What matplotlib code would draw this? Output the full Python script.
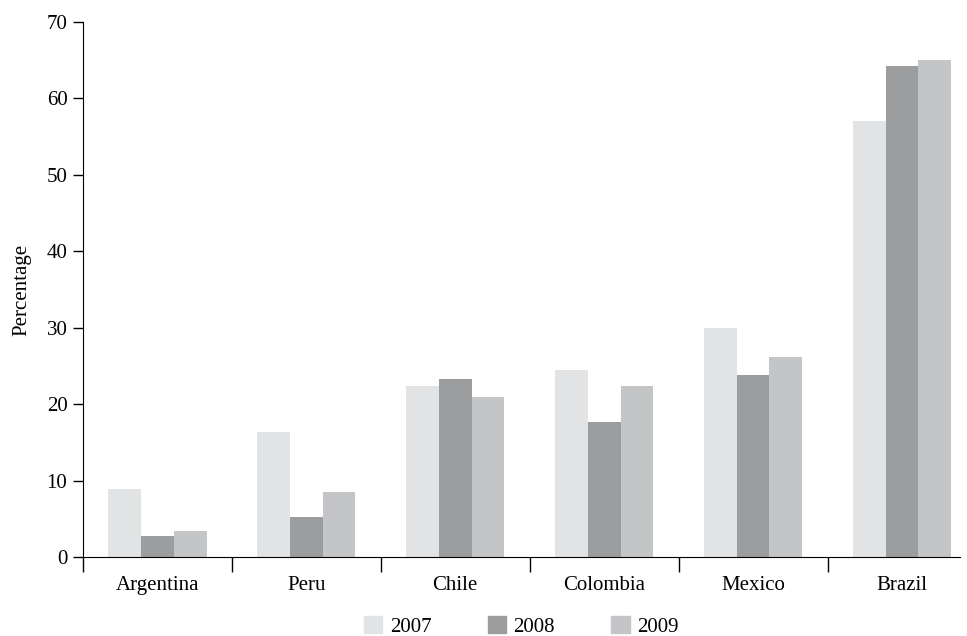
import numpy as np
import matplotlib
matplotlib.use("Agg")
import matplotlib.pyplot as plt
from matplotlib.patches import Patch

countries = ["Argentina", "Peru", "Chile", "Colombia", "Mexico", "Brazil"]
years = ["2007", "2008", "2009"]
v2007 = [8.9, 16.4, 22.4, 24.5, 29.9, 57.0]
v2008 = [2.8, 5.2, 23.3, 17.7, 23.8, 64.2]
v2009 = [3.4, 8.5, 21.0, 22.4, 26.2, 65.0]
colors = ["#e2e3e5", "#9c9d9f", "#c4c5c7"]

plt.rcParams["font.family"] = ["Liberation Serif", "DejaVu Serif"]
fs = 15

fig = plt.figure(figsize=(9.67, 6.36), dpi=100)
ax = fig.add_axes([0.0858, 0.1242, 0.9070, 0.8412])

x = np.arange(len(countries))
w = 0.22
for i, vals in enumerate([v2007, v2008, v2009]):
    ax.bar(x + (i - 1) * w, vals, width=w, color=colors[i], label=years[i])

ax.set_xlim(-0.5, 5.39)
ax.set_ylim(0, 70)
ax.set_yticks(range(0, 71, 10))
ax.tick_params(axis="y", direction="out", length=7.2, width=1, labelsize=fs, pad=4)

# category boundaries as ticks, labels at centers
ax.set_xticks(np.arange(-0.5, 5.5, 1.0))
ax.set_xticklabels([])
ax.set_xticks(x, minor=True)
ax.set_xticklabels(countries, minor=True, fontsize=fs)
ax.tick_params(axis="x", which="major", direction="out", length=11, width=1)
ax.tick_params(axis="x", which="minor", length=0, pad=14)

for s in ["top", "right"]:
    ax.spines[s].set_visible(False)
ax.spines["left"].set_bounds(0, 70)
ax.set_ylabel("Percentage", fontsize=fs, labelpad=11)

handles = [Patch(color=c) for c in colors]
ax.legend(handles, years, loc="center", bbox_to_anchor=(0.539, 0.015),
          bbox_transform=fig.transFigure, ncol=3, frameon=False, fontsize=fs,
          handlelength=0.9, handleheight=0.85, columnspacing=2.7, handletextpad=0.35,
          borderpad=0)

fig.savefig("out.png", dpi=100)
